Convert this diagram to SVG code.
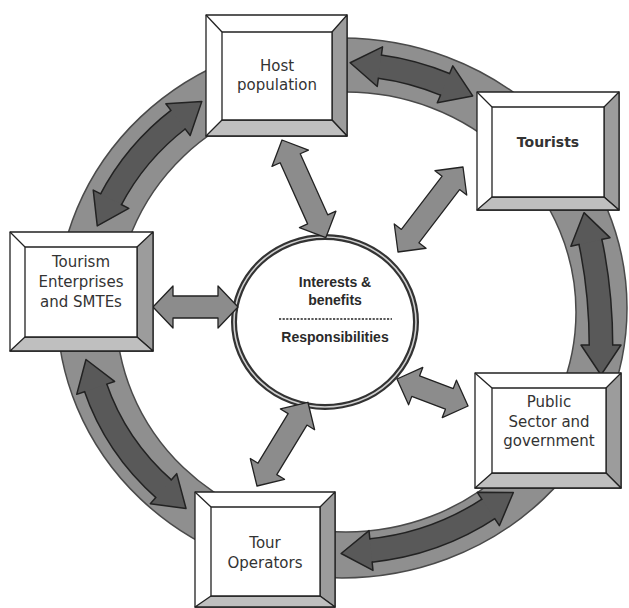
<svg xmlns="http://www.w3.org/2000/svg" width="629" height="608" viewBox="0 0 629 608">
<style>
  .ring { fill: #8f8f8f; stroke: #4a4a4a; stroke-width: 1.5; fill-rule: evenodd; }
  .rs-out { fill: none; stroke: #222; stroke-width: 25; }
  .rs { fill: none; stroke: #595959; stroke-width: 22; }
  .rad { fill: #8c8c8c; stroke: #222; stroke-width: 1.3; stroke-linejoin: round; }
  .face { fill: #fff; stroke: #222; stroke-width: 1.3; stroke-linejoin: round; }
  .bev-r { fill: #9c9c9c; stroke: #222; stroke-width: 1.3; stroke-linejoin: round; }
  .bev-b { fill: #bfbfbf; stroke: #222; stroke-width: 1.3; stroke-linejoin: round; }
  .lbl { font-family: "DejaVu Sans", "Liberation Sans", sans-serif; font-size: 15px; fill: #333; text-anchor: middle; }
  .ctr { font-family: "Liberation Sans", Arial, sans-serif; font-size: 14px; font-weight: bold; fill: #2a2a2a; text-anchor: middle; }
</style>
<defs>
  <marker id="rh" markerUnits="userSpaceOnUse" markerWidth="40" markerHeight="44" refX="2" refY="20" orient="auto-start-reverse" overflow="visible">
    <path d="M0,0 L30,20 L0,40 Z" fill="#595959"/>
    <path d="M0,9 L0,0 L30,20 L0,40 L0,31" fill="none" stroke="#222" stroke-width="1.5" stroke-linejoin="round"/>
  </marker>
</defs>

<g id="ring">
  <path class="ring" d="M57,308 A285,270 0 1 0 627,308 A285,270 0 1 0 57,308 Z M116,312 A230,220 0 1 0 576,312 A230,220 0 1 0 116,312 Z"/>
</g>

<g id="center">
  <ellipse cx="325" cy="322" rx="91" ry="85" fill="#fff" stroke="#333" stroke-width="6"/>
  <ellipse cx="325" cy="322" rx="91" ry="85" fill="none" stroke="#d0d0d0" stroke-width="1.6"/>
  <text class="ctr" x="335" y="287">Interests &amp;</text>
  <text class="ctr" x="335" y="305">benefits</text>
  <line x1="279" y1="319" x2="392" y2="319" stroke="#222" stroke-width="1.3" stroke-dasharray="2.2 1.4"/>
  <text class="ctr" x="335" y="342">Responsibilities</text>
</g>

<g id="connectors">
  <path class="rs-out" d="M110.1,201.0 A258,244 0 0 1 179.6,118.4"/>
  <path class="rs" d="M110.1,201.0 A258,244 0 0 1 179.6,118.4" marker-start="url(#rh)" marker-end="url(#rh)"/>
  <path class="rs-out" d="M377.9,66.4 A258,244 0 0 1 446.9,85.1"/>
  <path class="rs" d="M377.9,66.4 A258,244 0 0 1 446.9,85.1" marker-start="url(#rh)" marker-end="url(#rh)"/>
  <path class="rs-out" d="M590,240 Q601,290 601,347"/>
  <path class="rs" d="M590,240 Q601,290 601,347" marker-start="url(#rh)" marker-end="url(#rh)"/>
  <path class="rs-out" d="M490.0,507.9 A258,244 0 0 1 369.0,550.7"/>
  <path class="rs" d="M490.0,507.9 A258,244 0 0 1 369.0,550.7" marker-start="url(#rh)" marker-end="url(#rh)"/>
  <path class="rs-out" d="M165,490 A258,244 0 0 1 95,386"/>
  <path class="rs" d="M165,490 A258,244 0 0 1 95,386" marker-start="url(#rh)" marker-end="url(#rh)"/>

  <path class="rad" transform="translate(282,140) rotate(65.8)" d="M0,0 L20,-20 L20,-11 L87,-11 L87,-20 L107,0 L87,20 L87,11 L20,11 L20,20 Z"/>
  <path class="rad" transform="translate(398,252) rotate(-52.6)" d="M0,0 L20,-20 L20,-11 L87,-11 L87,-20 L107,0 L87,20 L87,11 L20,11 L20,20 Z"/>
  <path class="rad" transform="translate(153,307)" d="M0,0 L20,-21 L20,-11 L65,-11 L65,-21 L85,0 L65,21 L65,11 L20,11 L20,21 Z"/>
  <path class="rad" transform="translate(397,379) rotate(20.8)" d="M0,0 L20,-20 L20,-11 L56,-11 L56,-20 L76,0 L56,20 L56,11 L20,11 L20,20 Z"/>
  <path class="rad" transform="translate(257,486) rotate(-58.7)" d="M0,0 L20,-20 L20,-11 L78,-11 L78,-20 L98,0 L78,20 L78,11 L20,11 L20,20 Z"/>
</g>

<g id="host">
  <polygon class="face" points="206,15 347,15 347,136 206,136"/>
  <polygon class="bev-r" points="347,15 347,136 332,120 332,32"/>
  <polygon class="bev-b" points="206,136 347,136 332,120 222,120"/>
  <line x1="206" y1="15" x2="222" y2="32" stroke="#222" stroke-width="1.3"/>
  <rect class="face" x="222" y="32" width="110" height="88"/>
  <text class="lbl" x="277" y="71">Host</text>
  <text class="lbl" x="277" y="90">population</text>
</g>

<g id="tourists">
  <polygon class="face" points="477,92 619,92 619,210 477,210"/>
  <polygon class="bev-r" points="619,92 619,210 604,197 604,107"/>
  <polygon class="bev-b" points="477,210 619,210 604,197 492,197"/>
  <line x1="477" y1="92" x2="492" y2="107" stroke="#222" stroke-width="1.3"/>
  <rect class="face" x="492" y="107" width="112" height="90"/>
  <text class="lbl" x="548" y="147" style="font-weight:bold;font-size:14px">Tourists</text>
</g>

<g id="enterprises">
  <polygon class="face" points="10,232 153,232 153,351 10,351"/>
  <polygon class="bev-r" points="153,232 153,351 137,337 137,247"/>
  <polygon class="bev-b" points="10,351 153,351 137,337 25,337"/>
  <line x1="10" y1="232" x2="25" y2="247" stroke="#222" stroke-width="1.3"/>
  <rect class="face" x="25" y="247" width="112" height="90"/>
  <text class="lbl" x="81" y="267">Tourism</text>
  <text class="lbl" x="81" y="287">Enterprises</text>
  <text class="lbl" x="81" y="307">and SMTEs</text>
</g>

<g id="public">
  <polygon class="face" points="475,373 621,373 621,488 475,488"/>
  <polygon class="bev-r" points="621,373 621,488 606,473 606,388"/>
  <polygon class="bev-b" points="475,488 621,488 606,473 492,473"/>
  <line x1="475" y1="373" x2="492" y2="388" stroke="#222" stroke-width="1.3"/>
  <rect class="face" x="492" y="388" width="114" height="85"/>
  <text class="lbl" x="549" y="407">Public</text>
  <text class="lbl" x="549" y="427">Sector and</text>
  <text class="lbl" x="549" y="446">government</text>
</g>

<g id="operators">
  <polygon class="face" points="195,492 335,492 335,607 195,607"/>
  <polygon class="bev-r" points="335,492 335,607 320,596 320,507"/>
  <polygon class="bev-b" points="195,607 335,607 320,596 211,596"/>
  <line x1="195" y1="492" x2="211" y2="507" stroke="#222" stroke-width="1.3"/>
  <rect class="face" x="211" y="507" width="109" height="89"/>
  <text class="lbl" x="265" y="548">Tour</text>
  <text class="lbl" x="265" y="568">Operators</text>
</g>
</svg>
